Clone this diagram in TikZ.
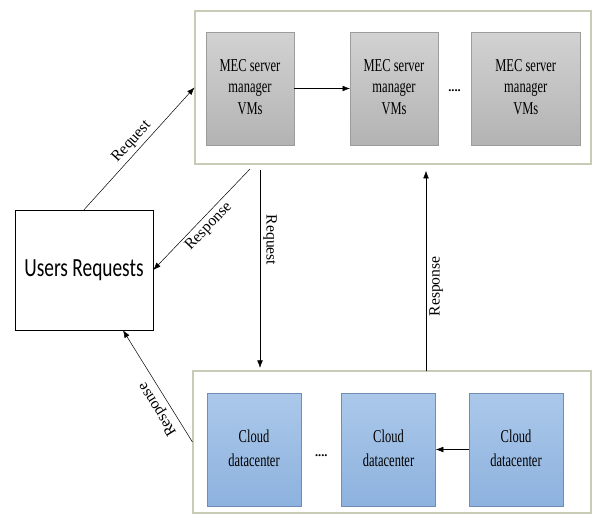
\documentclass[tikz,border=0pt]{standalone}
\usepackage{fontspec}
\usepackage{graphicx}
\setmainfont{Liberation Serif}
\newfontfamily\usersfont{Carlito}
\usetikzlibrary{arrows.meta, positioning, calc}

\definecolor{groupline}{HTML}{C6CCB6}
\definecolor{mectop}{HTML}{D2D2D2}
\definecolor{mecbot}{HTML}{B3B3B3}
\definecolor{mecline}{HTML}{9C9C9C}
\definecolor{cloudtop}{HTML}{ABC8EA}
\definecolor{cloudbot}{HTML}{8DB2DE}
\definecolor{cloudline}{HTML}{6F8DB6}

% tall, narrow lettering as in the picture
\newcommand{\tallstack}[2][1]{\scalebox{1}[1.45]{\renewcommand{\arraystretch}{#1}\begin{tabular}{@{}c@{}}#2\end{tabular}}}

\begin{document}
\begin{tikzpicture}[
      x=0.8pt, y=-0.8pt,
      group/.style={rectangle, draw=groupline, line width=0.9pt, fill=white},
      mec/.style={rectangle, draw=mecline, top color=mectop, bottom color=mecbot, minimum width=70pt, minimum height=90.4pt, align=center, font=\fontsize{10}{12}\selectfont},
      cloud/.style={rectangle, draw=cloudline, top color=cloudtop, bottom color=cloudbot, minimum width=75.2pt, minimum height=90.4pt, align=center, font=\fontsize{10}{12}\selectfont},
      users/.style={rectangle, draw, thin, minimum width=110.4pt, minimum height=96pt, font=\usersfont\fontsize{15.5}{18}\selectfont},
      lbl/.style={font=\fontsize{12.5}{14}\selectfont, inner sep=2.5pt},
      arrow/.style={-{Latex[length=6pt, width=4.5pt]}, thin}
    ]
    \useasboundingbox (0,0) rectangle (595,520);

    % groups
    \node[group, minimum width=316.8pt, minimum height=122.4pt] (mecgroup) at (393,87.5) {};
    \node[group, minimum width=318.4pt, minimum height=113.6pt] (cloudgroup) at (392,442) {};

    % MEC servers
    \node[mec] (mec1) at (250,88.5) {\tallstack{MEC server\\manager\\VMs}};
    \node[mec, right=44.8pt of mec1] (mec2) {\tallstack{MEC server\\manager\\VMs}};
    \node[mec, right=26.4pt of mec2, minimum width=87.2pt] (mec3) {\tallstack{MEC server\\manager\\VMs}};
    \node[yshift=-2pt] (mecdots) at ($(mec2.east)!0.5!(mec3.west)$) {\textbf{....}};

    % cloud datacenters
    \node[cloud] (cloud1) at (254,449.5) {\tallstack[1.1]{Cloud\\datacenter}};
    \node[cloud, right=32pt of cloud1] (cloud2) {\tallstack[1.1]{Cloud\\datacenter}};
    \node[cloud, right=26.4pt of cloud2] (cloud3) {\tallstack[1.1]{Cloud\\datacenter}};
    \node[yshift=-5pt] (clouddots) at ($(cloud1.east)!0.5!(cloud2.west)$) {\textbf{....}};

    \node[users] (users) at (84,270) {\scalebox{1}[1.35]{Users Requests}};

    \coordinate (resptop) at (250,169);
    \coordinate (reqtop) at (260,170);
    \coordinate (respbot) at (426,371);

    \draw[arrow] (mec1) -- (mec2);
    \draw[arrow] (cloud3) -- (cloud2);
    \draw[arrow] (users.north) -- node[lbl, sloped, above] {Request} (mecgroup.west);
    \draw[arrow] (resptop) -- node[lbl, sloped, below] {Response} (users.east);
    \draw[arrow, shorten >=2pt] (reqtop) -- node[lbl, pos=0.35, rotate=-90, anchor=south] {Request} (reqtop |- cloudgroup.north);
    \draw[arrow, shorten >=5pt] (respbot) -- node[lbl, pos=0.41, rotate=90, anchor=north] {Response} (respbot |- mecgroup.south);
    \draw[arrow] (cloudgroup.west) -- node[lbl, pos=0.35, sloped, allow upside down, above, inner sep=4pt] {Response} ([xshift=31.2pt]users.south);
  \end{tikzpicture}
\end{document}
